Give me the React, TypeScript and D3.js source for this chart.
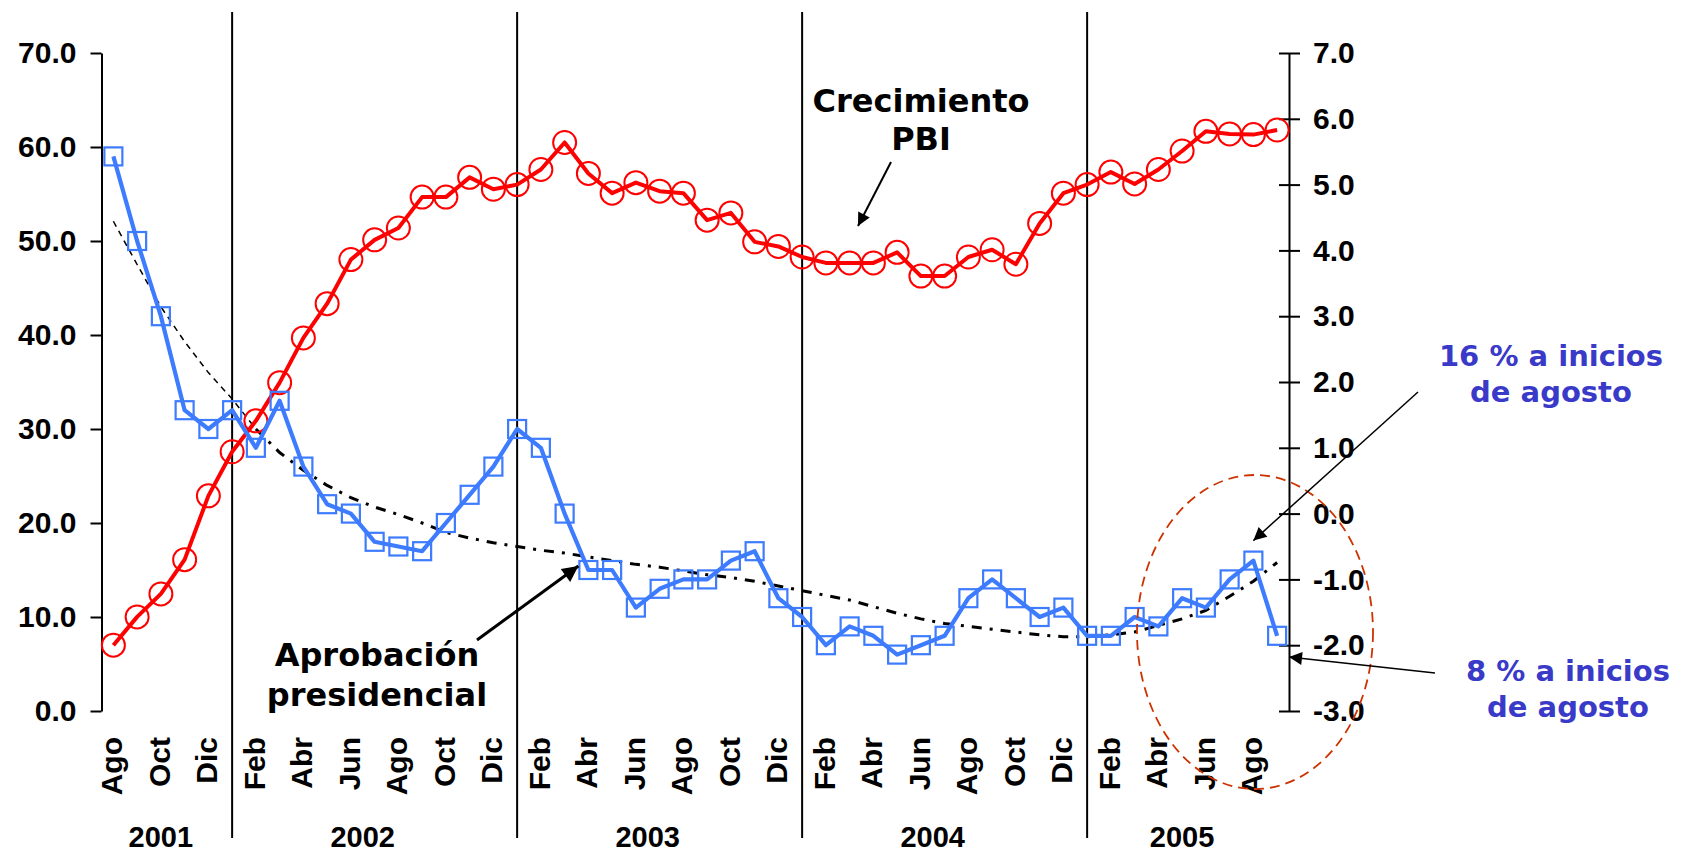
import React, { useEffect, useRef } from 'react';
import * as d3 from 'd3';

// categories: months Ago 2001 .. Sep 2005
const years = ['2001', '2002', '2003', '2004', '2005'];
const monthsByYear = [
  ['Ago', 'Sep', 'Oct', 'Nov', 'Dic'],
  ['Ene', 'Feb', 'Mar', 'Abr', 'May', 'Jun', 'Jul', 'Ago', 'Sep', 'Oct', 'Nov', 'Dic'],
  ['Ene', 'Feb', 'Mar', 'Abr', 'May', 'Jun', 'Jul', 'Ago', 'Sep', 'Oct', 'Nov', 'Dic'],
  ['Ene', 'Feb', 'Mar', 'Abr', 'May', 'Jun', 'Jul', 'Ago', 'Sep', 'Oct', 'Nov', 'Dic'],
  ['Ene', 'Feb', 'Mar', 'Abr', 'May', 'Jun', 'Jul', 'Ago', 'Sep'],
];

// Aprobación presidencial (%), left axis
const aprobacion = [
  59, 50, 42, 32, 30,
  32, 28, 33, 26, 22, 21, 18, 17.5, 17, 20, 23, 26,
  30, 28, 21, 15, 15, 11, 13, 14, 14, 16, 17, 12,
  10, 7, 9, 8, 6, 7, 8, 12, 14, 12, 10, 11,
  8, 8, 10, 9, 12, 11, 14, 16, 8,
];

// dotted trend of the approval, left axis
const tendencia = [
  52.1, 47.5, 43, 39.3, 36,
  33.2, 30, 27.5, 25.6, 24, 22.7, 21.7, 20.9, 20, 19, 18.4, 17.9,
  17.5, 17.1, 16.8, 16.4, 16, 15.6, 15.3, 14.9, 14.5, 14.2, 13.8, 13.3,
  12.8, 12.3, 11.8, 11.1, 10.4, 9.8, 9.3, 9.0, 8.7, 8.4, 8.1, 7.9,
  7.9, 8.1, 8.4, 9.1, 9.8, 10.7, 12.2, 13.8, 15.8,
];

// Crecimiento PBI (%), right axis
const pbi = [
  -2.0, -1.57, -1.22, -0.7, 0.27,
  0.94, 1.41, 1.99, 2.67, 3.19, 3.86, 4.16, 4.34, 4.81, 4.81, 5.11, 4.93,
  5.0, 5.23, 5.64, 5.17, 4.87, 5.03, 4.9, 4.87, 4.46, 4.57, 4.13, 4.06,
  3.9, 3.81, 3.81, 3.81, 3.97, 3.61, 3.61, 3.9, 4.01, 3.79, 4.41, 4.87,
  5.0, 5.19, 5.01, 5.23, 5.51, 5.81, 5.77, 5.76, 5.83,
];

const leftTicks = [0, 10, 20, 30, 40, 50, 60, 70];
const rightTicks = [-3, -2, -1, 0, 1, 2, 3, 4, 5, 6, 7];

const AXIS_FONT = '"Liberation Sans", Arial, sans-serif';
const NOTE_FONT = '"DejaVu Sans", Verdana, sans-serif';
const BLUE = '#3d7bff';
const RED = '#ff0000';
const NOTE_BLUE = '#3a3ac8';

const App = () => {
  const chartRef = useRef<SVGSVGElement | null>(null);

  useEffect(() => {
    const width = 1681;
    const height = 854;
    const svg = d3.select(chartRef.current);
    svg.selectAll('*').remove();

    const cats = monthsByYear.flatMap((ms, yi) => ms.map(m => ({ key: `${m} ${years[yi]}`, month: m, year: years[yi] })));
    const keys = cats.map(c => c.key);

    const x = d3.scalePoint().domain(keys).range([101.5, 1289]).padding(0.5);
    const yL = d3.scaleLinear().domain([0, 70]).range([711, 53]);
    const yR = d3.scaleLinear().domain([-3, 7]).range([711, 53]);
    const fmt = (d: number) => d.toFixed(1);

    svg.append('rect').attr('width', width).attr('height', height).attr('fill', '#fff');

    const defs = svg.append('defs');
    const addHead = (id: string, w: number, h: number) => {
      defs.append('marker')
        .attr('id', id)
        .attr('viewBox', '0 0 10 10')
        .attr('refX', 10)
        .attr('refY', 5)
        .attr('markerWidth', w)
        .attr('markerHeight', h)
        .attr('markerUnits', 'userSpaceOnUse')
        .attr('orient', 'auto')
        .append('path')
        .attr('d', 'M0,0 L10,5 L0,10 z')
        .attr('fill', '#000');
    };
    addHead('head', 17, 13);
    addHead('headBig', 20, 16);

    // left axis
    const left = svg.append('g')
      .attr('transform', 'translate(101.5,0)')
      .call(d3.axisLeft(yL).tickValues(leftTicks).tickSize(11).tickSizeOuter(0).tickPadding(14).tickFormat(fmt as any));
    left.select('.domain').attr('stroke-width', 2);
    left.selectAll('.tick line').attr('stroke-width', 2);
    left.selectAll('.tick text')
      .attr('font-family', AXIS_FONT)
      .attr('font-size', 30)
      .attr('font-weight', 'bold')
      .attr('fill', '#000');

    // right axis, ticks cross the line
    const right = svg.append('g')
      .attr('transform', `translate(${x.range()[1]},0)`)
      .call(d3.axisRight(yR).tickValues(rightTicks).tickSize(11).tickSizeOuter(0).tickPadding(13).tickFormat(fmt as any));
    right.select('.domain').attr('stroke-width', 2);
    right.selectAll('.tick line').attr('x1', -10).attr('stroke-width', 2);
    right.selectAll('.tick text')
      .attr('font-family', AXIS_FONT)
      .attr('font-size', 30)
      .attr('font-weight', 'bold')
      .attr('fill', '#000');

    // year separators through January
    svg.append('g')
      .selectAll('line')
      .data(cats.filter(c => c.month === 'Ene'))
      .enter()
      .append('line')
      .attr('x1', d => x(d.key)!)
      .attr('x2', d => x(d.key)!)
      .attr('y1', 12)
      .attr('y2', 838)
      .attr('stroke', '#000')
      .attr('stroke-width', 2);

    // month labels, every other month
    svg.append('g')
      .selectAll('text')
      .data(cats.filter((c, i) => i % 2 === 0))
      .enter()
      .append('text')
      .attr('transform', d => `translate(${x(d.key)},737) rotate(-90)`)
      .attr('dy', '0.3em')
      .attr('text-anchor', 'end')
      .attr('font-family', AXIS_FONT)
      .attr('font-size', 30)
      .attr('font-weight', 'bold')
      .text(d => d.month);

    // year labels
    svg.append('g')
      .selectAll('text')
      .data(years)
      .enter()
      .append('text')
      .attr('x', yr => d3.mean(cats.filter(c => c.year === yr), c => x(c.key)!)!)
      .attr('y', 847)
      .attr('text-anchor', 'middle')
      .attr('font-family', AXIS_FONT)
      .attr('font-size', 29)
      .attr('font-weight', 'bold')
      .text(yr => yr);

    // trend: thin at the start, heavier dash-dot afterwards
    const trendLine = d3.line<[number, number]>().x(d => x(keys[d[0]])!).y(d => yL(d[1]));
    const trendPts = tendencia.map((v, i) => [i, v] as [number, number]);
    svg.append('path')
      .attr('d', trendLine(trendPts.slice(0, 7)))
      .attr('fill', 'none')
      .attr('stroke', '#000')
      .attr('stroke-width', 1.5)
      .attr('stroke-dasharray', '6,5');
    svg.append('path')
      .attr('d', trendLine(trendPts.slice(6)))
      .attr('fill', 'none')
      .attr('stroke', '#000')
      .attr('stroke-width', 3)
      .attr('stroke-dasharray', '10,8,3,8');

    // PBI
    const redLine = d3.line<number>().x((d, i) => x(keys[i])!).y(d => yR(d));
    svg.append('path')
      .attr('d', redLine(pbi))
      .attr('fill', 'none')
      .attr('stroke', RED)
      .attr('stroke-width', 4)
      .attr('stroke-linejoin', 'round');
    svg.append('g')
      .selectAll('circle')
      .data(pbi)
      .enter()
      .append('circle')
      .attr('cx', (d, i) => x(keys[i])!)
      .attr('cy', d => yR(d))
      .attr('r', 11.5)
      .attr('fill', 'none')
      .attr('stroke', RED)
      .attr('stroke-width', 2);

    // aprobación
    const blueLine = d3.line<number>().x((d, i) => x(keys[i])!).y(d => yL(d));
    svg.append('path')
      .attr('d', blueLine(aprobacion))
      .attr('fill', 'none')
      .attr('stroke', BLUE)
      .attr('stroke-width', 4.2)
      .attr('stroke-linejoin', 'round');
    svg.append('g')
      .selectAll('rect')
      .data(aprobacion)
      .enter()
      .append('rect')
      .attr('x', (d, i) => x(keys[i])! - 9)
      .attr('y', d => yL(d) - 9)
      .attr('width', 18)
      .attr('height', 18)
      .attr('fill', 'none')
      .attr('stroke', BLUE)
      .attr('stroke-width', 2.2);

    // dashed ellipse around 2005
    svg.append('ellipse')
      .attr('cx', 1255)
      .attr('cy', 632)
      .attr('rx', 118)
      .attr('ry', 157)
      .attr('fill', 'none')
      .attr('stroke', '#cc3300')
      .attr('stroke-width', 1.8)
      .attr('stroke-dasharray', '10,6');

    // annotations
    const note = (lines: string[], cx: number, y0: number, lh: number, size: number, color: string) => {
      const t = svg.append('text')
        .attr('text-anchor', 'middle')
        .attr('font-family', NOTE_FONT)
        .attr('font-size', size)
        .attr('font-weight', 'bold')
        .attr('fill', color);
      lines.forEach((l, i) => t.append('tspan').attr('x', cx).attr('y', y0 + i * lh).text(l));
    };
    note(['Crecimiento', 'PBI'], 921, 112, 38, 32, '#000');
    note(['Aprobación', 'presidencial'], 377, 666, 40, 32, '#000');
    note(['16 % a inicios', 'de agosto'], 1551, 366, 36, 29, NOTE_BLUE);
    note(['8 % a inicios', 'de agosto'], 1568, 681, 36, 29, NOTE_BLUE);

    const arrow = (x1: number, y1: number, x2: number, y2: number, w: number, head: string) => {
      svg.append('line')
        .attr('x1', x1).attr('y1', y1)
        .attr('x2', x2).attr('y2', y2)
        .attr('stroke', '#000')
        .attr('stroke-width', w)
        .attr('marker-end', `url(#${head})`);
    };
    arrow(891, 162, 858, 226, 2, 'head');
    arrow(477, 640, x(keys[20])! - 10, yL(aprobacion[20]) - 4, 3, 'headBig');
    arrow(1418, 392, x(keys[48])!, yL(aprobacion[48]) - 20, 1.5, 'head');
    arrow(1435, 673, x.range()[1], 657, 1.5, 'head');
  }, []);

  return (
    <svg
      ref={chartRef}
      width={1681}
      height={854}
      style={{ position: 'absolute', left: 0, top: 0, display: 'block' }}
    />
  );
};

export default App;
